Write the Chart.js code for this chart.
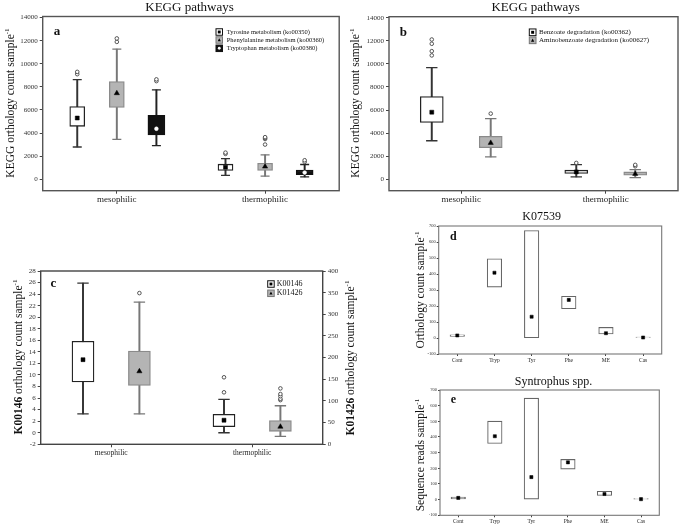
<!DOCTYPE html>
<html>
<head>
<meta charset="utf-8">
<script src="https://cdn.jsdelivr.net/npm/chart.js@4"></script>
<style>
  body { margin: 0; background: #fff; width: 685px; height: 525px; position: relative; overflow: hidden; }
  canvas { position: absolute; }
</style>
</head>
<body>
<canvas id="chartA" width="345" height="205" style="left:0;top:0"></canvas>
<canvas id="chartB" width="345" height="205" style="left:340px;top:0"></canvas>
<canvas id="chartC" width="370" height="205" style="left:0;top:255px"></canvas>
<canvas id="chartD" width="285" height="155" style="left:400px;top:210px"></canvas>
<canvas id="chartE" width="285" height="160" style="left:400px;top:365px"></canvas>
<script>
// ---- data ----
const groups = ['mesophilic', 'thermophilic'];
const keggTicks = [0, 2000, 4000, 6000, 8000, 10000, 12000, 14000];

// panel a : rows = Tyrosine, Phenylalanine, Tryptophan ; cols = mesophilic, thermophilic
const aSeries = ['Tyrosine metabolism (ko00350)', 'Phenylalanine metabolism (ko00360)', 'Tryptophan metabolism (ko00380)'];
const aQ1 = [[4580, 750], [6220, 750], [3830, 400]];
const aQ3 = [[6300, 1300], [8460, 1380], [5530, 780]];
const aMid = [[5300, 1040], [7450, 1090], [4370, 575]];
const aLow = [[2790, 320], [3450, 260], [2900, 200]];
const aHigh = [[8630, 1780], [11280, 2100], [7740, 1270]];
const aOut = [[[9100, 9300], [2190, 2300]], [[11900, 12200], [3000, 3480, 3560, 3640]], [[8500, 8650], [1500, 1640]]];

// panel b : rows = Benzoate, Aminobenzoate
const bSeries = ['Benzoate degradation (ko00362)', 'Aminobenzoate degradation (ko00627)'];
const bQ1 = [[4925, 490], [2740, 345]];
const bQ3 = [[7170, 780], [3720, 630]];
const bMid = [[5815, 630], [3150, 460]];
const bLow = [[3335, 200], [1930, 140]];
const bHigh = [[9680, 1270], [5250, 830]];
const bOut = [[[10740, 11110, 11750, 12120], [1410]], [[5690], [1120, 1240]]];

// panel c : K00146 on left axis, K01426 on right axis
const cSeries = ['K00146', 'K01426'];
const cLeftTicks = [-2, 0, 2, 4, 6, 8, 10, 12, 14, 16, 18, 20, 22, 24, 26, 28];
const cRightTicks = [0, 50, 100, 150, 200, 250, 300, 350, 400];
const k146Q1 = [8.8, 1.06], k146Q3 = [15.84, 3.2], k146Mid = [12.65, 2.17];
const k146Low = [3.26, 0], k146High = [25.9, 5.78], k146Out = [[], [7.0, 9.6]];
const k1426Q1 = [136, 30], k1426Q3 = [215, 55], k1426Mid = [168.5, 40.6];
const k1426Low = [70, 18.5], k1426High = [328, 89], k1426Out = [[349], [102, 105, 111, 116, 129]];

// panels d, e
const treatments = ['Cont', 'Tryp', 'Tyr', 'Phe', 'ME', 'Cas'];
const smallTicks = [-100, 0, 100, 200, 300, 400, 500, 600, 700];
const dLow = [10, 318, 2, 183, 25, 0];
const dHigh = [20, 495, 672, 261, 66, 6];
const dMid = [16, 408, 133, 238, 30, 3];
const eLow = [4, 359, 0, 195, 27, 0];
const eHigh = [17, 501, 648, 257, 53, 7];
const eMid = [11, 405, 144, 238, 36, 3];

// ---- drawing helpers ----
const SERIF = '"Liberation Serif", "Times New Roman", serif';

const styles = {
  white: { fill: '#ffffff', line: '#222', wc: '#333', marker: 'rect', mr: 2.8, mc: '#000' },
  grey: { fill: '#b4b4b4', line: '#8a8a8a', wc: '#777', marker: 'triangle', mr: 3, mc: '#000' },
  black: { fill: '#111111', line: '#111', wc: '#222', marker: 'circle', mr: 1.9, mc: '#fff' }
};

function boxSets(pos, q1, q3, mid, low, high, out, st, opt) {
  const yID = opt.yID || 'y';
  const pts = vals => vals.map((v, i) => ({ x: pos[i], y: v }));
  const sets = [];
  sets.push({ type: 'scatter', data: pts(mid), pointStyle: st.marker, pointRadius: opt.mr || st.mr,
    backgroundColor: st.mc, borderColor: st.mc, borderWidth: 0.5, order: 0, yAxisID: yID });
  if (out) {
    sets.push({ type: 'scatter', data: out.flatMap((arr, i) => arr.map(v => ({ x: pos[i], y: v }))),
      pointStyle: 'circle', pointRadius: 1.8, backgroundColor: '#fff', borderColor: '#444', borderWidth: 0.9,
      order: 1, yAxisID: yID });
  }
  sets.push({ type: 'bar', data: q1.map((v, i) => ({ x: pos[i], y: [v, q3[i]] })),
    backgroundColor: st.fill, borderColor: opt.line || st.line, borderWidth: opt.bw || 1.3, borderSkipped: false,
    barThickness: opt.w, grouped: false, order: 2, yAxisID: yID });
  if (low) {
    sets.push({ type: 'bar', data: low.map((v, i) => ({ x: pos[i], y: [v, high[i]] })),
      backgroundColor: st.wc, borderWidth: 0, barThickness: 1.3, grouped: false, order: 3, yAxisID: yID });
    sets.push({ type: 'scatter', data: pts(low).concat(pts(high)), pointStyle: 'line', pointRadius: opt.cap,
      borderColor: st.wc, borderWidth: 1.3, order: 1, yAxisID: yID });
  }
  return sets;
}

function xScale(labels, size, h, tick) {
  return {
    type: 'linear', min: 0, max: labels.length, offset: false,
    afterBuildTicks: s => { s.ticks = labels.map((l, i) => ({ value: i + 0.5 })); },
    afterFit: s => { s.height = h; },
    ticks: { callback: (v, i) => labels[i], font: { family: SERIF, size: size }, color: '#222',
      padding: 1, maxRotation: 0, autoSkip: false },
    grid: { offset: false, drawOnChartArea: false, tickLength: tick, color: '#444' },
    border: { display: false }
  };
}

function yScale(min, max, ticks, size, w, pos, tick) {
  return {
    type: 'linear', position: pos || 'left', min: min, max: max,
    afterBuildTicks: s => { s.ticks = ticks.map(v => ({ value: v })); },
    afterFit: s => { s.width = w; },
    ticks: { callback: v => String(v), font: { family: SERIF, size: size }, color: '#333',
      padding: tick > 2 ? 2 : 1, autoSkip: false },
    grid: { drawOnChartArea: false, tickLength: tick, color: '#444' },
    border: { display: false }
  };
}

function vText(ctx, t) {
  ctx.save();
  ctx.translate(t.x, t.y);
  ctx.rotate(-Math.PI / 2);
  const f = (b, s) => (b ? 'bold ' : '') + s + 'px ' + SERIF;
  let w = 0;
  t.parts.forEach(p => { ctx.font = f(p[1], t.size); w += ctx.measureText(p[0]).width; });
  ctx.font = f(false, t.size * 0.62);
  w += ctx.measureText('-1').width;
  let x = -w / 2;
  const base = t.size * 0.35;
  ctx.textAlign = 'left';
  ctx.textBaseline = 'alphabetic';
  ctx.fillStyle = '#111';
  t.parts.forEach(p => {
    ctx.font = f(p[1], t.size);
    ctx.fillText(p[0], x, base);
    x += ctx.measureText(p[0]).width;
  });
  ctx.font = f(false, t.size * 0.62);
  ctx.fillText('-1', x, base - t.size * 0.42);
  ctx.restore();
}

function legendMark(ctx, kind, cx, cy, r) {
  ctx.beginPath();
  if (kind === 'rect') {
    ctx.fillStyle = '#000';
    ctx.fillRect(cx - r, cy - r, 2 * r, 2 * r);
  } else if (kind === 'triangle') {
    ctx.fillStyle = '#000';
    ctx.moveTo(cx, cy - r * 1.2);
    ctx.lineTo(cx + r * 1.1, cy + r * 0.9);
    ctx.lineTo(cx - r * 1.1, cy + r * 0.9);
    ctx.closePath();
    ctx.fill();
  } else {
    ctx.fillStyle = '#fff';
    ctx.arc(cx, cy, r, 0, Math.PI * 2);
    ctx.fill();
  }
}

const deco = {
  id: 'deco',
  afterDraw(chart, args, o) {
    const ctx = chart.ctx, ca = chart.chartArea;
    ctx.save();
    ctx.strokeStyle = o.frame || '#555';
    ctx.lineWidth = o.frameW || 1.4;
    ctx.strokeRect(ca.left, ca.top, ca.right - ca.left, ca.bottom - ca.top);
    ctx.fillStyle = '#111';
    ctx.textBaseline = 'middle';
    if (o.title) {
      ctx.font = o.title.size + 'px ' + SERIF;
      ctx.textAlign = 'center';
      ctx.fillText(o.title.text, o.title.x, o.title.y);
    }
    if (o.letter) {
      ctx.font = 'bold ' + o.letter.size + 'px ' + SERIF;
      ctx.textAlign = 'center';
      ctx.fillText(o.letter.text, o.letter.x, o.letter.y);
    }
    (o.yTitles || []).forEach(t => vText(ctx, t));
    if (o.legend) {
      const L = o.legend;
      L.rows.forEach((row, i) => {
        const y = L.y[i], s = L.box;
        const st = styles[row.style];
        ctx.fillStyle = st.fill;
        ctx.fillRect(L.x, y - s / 2, s, s);
        ctx.strokeStyle = row.style === 'grey' ? '#777' : '#111';
        ctx.lineWidth = 1;
        ctx.strokeRect(L.x, y - s / 2, s, s);
        legendMark(ctx, st.marker, L.x + s / 2, y, s * 0.22);
        ctx.fillStyle = '#111';
        ctx.font = L.size + 'px ' + SERIF;
        ctx.textAlign = 'left';
        ctx.textBaseline = 'middle';
        ctx.fillText(row.label, L.tx, y);
      });
    }
    ctx.restore();
  }
};

function makeChart(id, datasets, scales, pad, decoOpts) {
  return new Chart(document.getElementById(id), {
    type: 'bar',
    data: { datasets: datasets },
    options: {
      responsive: false, animation: false, devicePixelRatio: 1,
      layout: { padding: pad },
      plugins: { legend: { display: false }, tooltip: { enabled: false }, deco: decoOpts },
      scales: scales
    },
    plugins: [deco]
  });
}

// ---- panel a ----
(function () {
  const offs = [-0.267, 0, 0.267];
  const st = ['white', 'grey', 'black'];
  const widths = [15, 15, 17];
  let sets = [];
  aSeries.forEach((name, k) => {
    const pos = groups.map((g, i) => i + 0.5 + offs[k]);
    sets = sets.concat(boxSets(pos, aQ1[k], aQ3[k], aMid[k], aLow[k], aHigh[k], aOut[k], styles[st[k]],
      { w: widths[k], cap: 4.5 }));
  });
  makeChart('chartA', sets,
    { x: xScale(groups, 9, 14.3, 3), y: yScale(-1000, 14100, keggTicks, 7, 42.7, 'left', 3) },
    { left: 0, top: 16.5, right: 4.5, bottom: 0 },
    {
      title: { text: 'KEGG pathways', x: 189.5, y: 7.5, size: 13 },
      letter: { text: 'a', x: 57, y: 32, size: 13 },
      yTitles: [{ parts: [['KEGG orthology count sample', false]], x: 10, y: 103, size: 11.5 }],
      legend: { x: 216, tx: 226.7, box: 6.5, size: 6.5, y: [32, 40, 48.3],
        rows: aSeries.map((s, k) => ({ label: s, style: st[k] })) }
    });
})();

// ---- panel b ----
(function () {
  const offs = [-0.204, 0.204];
  const st = ['white', 'grey'];
  let sets = [];
  bSeries.forEach((name, k) => {
    const pos = groups.map((g, i) => i + 0.5 + offs[k]);
    sets = sets.concat(boxSets(pos, bQ1[k], bQ3[k], bMid[k], bLow[k], bHigh[k], bOut[k], styles[st[k]],
      { w: 23, cap: 5.7 }));
  });
  makeChart('chartB', sets,
    { x: xScale(groups, 9, 14.3, 3), y: yScale(-1000, 14100, keggTicks, 7, 49, 'left', 3) },
    { left: 0, top: 16.7, right: 1.7, bottom: 0 },
    {
      title: { text: 'KEGG pathways', x: 195.7, y: 7.5, size: 13 },
      letter: { text: 'b', x: 63.3, y: 32.3, size: 13 },
      yTitles: [{ parts: [['KEGG orthology count sample', false]], x: 15, y: 103, size: 11.5 }],
      legend: { x: 189.3, tx: 199, box: 6.7, size: 7, y: [32.3, 40.3],
        rows: bSeries.map((s, k) => ({ label: s, style: st[k] })) }
    });
})();

// ---- panel c ----
(function () {
  const posL = groups.map((g, i) => i + 0.5 - 0.2);
  const posR = groups.map((g, i) => i + 0.5 + 0.2);
  const sets = boxSets(posL, k146Q1, k146Q3, k146Mid, k146Low, k146High, k146Out, styles.white,
      { w: 22, cap: 5.7 })
    .concat(boxSets(posR, k1426Q1, k1426Q3, k1426Mid, k1426Low, k1426High, k1426Out, styles.grey,
      { w: 22, cap: 5.7, yID: 'y2' }));
  makeChart('chartC', sets,
    {
      x: xScale(groups, 7.5, 15.7, 3),
      y: yScale(-2, 28, cLeftTicks, 7, 40.7, 'left', 3),
      y2: yScale(0, 400, cRightTicks, 7, 47.3, 'right', 3)
    },
    { left: 0, top: 16, right: 0, bottom: 0 },
    {
      frame: '#444',
      letter: { text: 'c', x: 53.3, y: 28.3, size: 13 },
      yTitles: [
        { parts: [['K00146', true], [' orthology count sample', false]], x: 18, y: 102, size: 11.5 },
        { parts: [['K01426', true], [' orthology count sample', false]], x: 350, y: 103, size: 11.5 }
      ],
      legend: { x: 267.7, tx: 276.7, box: 6.5, size: 8, y: [29, 38.3],
        rows: cSeries.map((s, k) => ({ label: s, style: k ? 'grey' : 'white' })) }
    });
})();

// ---- panels d, e ----
function smallPanel(id, low, high, mid, pad, xh, yw, deco) {
  const pos = treatments.map((t, i) => i + 0.5);
  const sets = boxSets(pos, low, high, mid, null, null, null, styles.white,
    { w: 14.5, line: '#666', bw: 1.1, mr: 2.2 });
  makeChart(id, sets,
    { x: xScale(treatments, 5.5, xh, 2), y: yScale(-100, 700, smallTicks, 4.5, yw, 'left', 2) },
    pad, Object.assign({ frame: '#777', frameW: 1.1 }, deco));
}

smallPanel('chartD', dLow, dHigh, dMid, { left: 0, top: 16, right: 23.3, bottom: 0 }, 11, 38.7, {
  title: { text: 'K07539', x: 141.7, y: 7.3, size: 12 },
  letter: { text: 'd', x: 53.3, y: 27.3, size: 12 },
  yTitles: [{ parts: [['Orthology count sample', false]], x: 20, y: 80, size: 11.5 }]
});

smallPanel('chartE', eLow, eHigh, eMid, { left: 0, top: 25, right: 25.7, bottom: 0 }, 9.7, 40, {
  title: { text: 'Syntrophus spp.', x: 153.5, y: 16.7, size: 12 },
  letter: { text: 'e', x: 53.3, y: 35, size: 12 },
  yTitles: [{ parts: [['Sequence reads sample', false]], x: 20, y: 90, size: 11.5 }]
});
</script>
</body>
</html>
